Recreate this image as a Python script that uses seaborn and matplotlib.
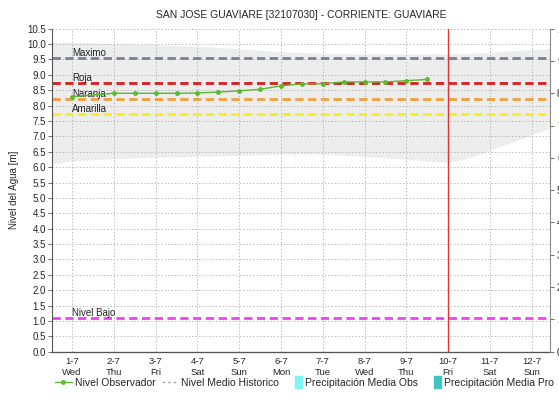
import numpy as np
import pandas as pd
import matplotlib.pyplot as plt
import seaborn as sns
from matplotlib.lines import Line2D
from matplotlib.patches import Patch, Rectangle
from matplotlib.legend_handler import HandlerPatch

sns.set_style("white")
plt.rcParams.update({
    "font.family": ["Liberation Sans", "DejaVu Sans"],
    "font.size": 7,
    "xtick.labelsize": 6.8,
    "ytick.labelsize": 7,
})

# dias del 1-7 (0) al 12-7 (11)
day_labels = ["1-7\nWed", "2-7\nThu", "3-7\nFri", "4-7\nSat", "5-7\nSun", "6-7\nMon",
              "7-7\nTue", "8-7\nWed", "9-7\nThu", "10-7\nFri", "11-7\nSat", "12-7\nSun"]

# nivel observado (cada 12 h)
obs_days = [0, 1, 1.5, 2, 2.5, 3, 3.5, 4, 4.5, 5, 5.5, 6, 6.5, 7, 7.5, 8, 8.5]
obs_level = [8.29, 8.40, 8.40, 8.40, 8.40, 8.41, 8.44, 8.48, 8.53, 8.64, 8.71, 8.71,
             8.77, 8.77, 8.77, 8.81, 8.85]

# rango historico (banda gris)
band_days = [-0.5, 0, 1, 2, 3, 4, 5, 6, 7, 8, 9, 9.5, 10, 10.5, 11, 11.5]
band_upper = [10.07, 10.05, 10.02, 9.98, 9.93, 9.85, 9.75, 9.70, 9.68, 9.68, 9.68,
              9.70, 9.73, 9.78, 9.82, 9.86]
band_lower = [6.10, 6.20, 6.28, 6.32, 6.35, 6.38, 6.42, 6.42, 6.35, 6.25, 6.15,
              6.30, 6.55, 6.80, 7.05, 7.30]

# umbrales
thr_names = ["Maximo", "Roja", "Naranja", "Amarilla", "Nivel Bajo"]
thr_values = [9.55, 8.74, 8.22, 7.73, 1.08]
thr_colors = ["#7a8194", "#d81e1e", "#f0a040", "#f5f01e", "#ee44ee"]

today = 9  # 10-7

fig = plt.figure(figsize=(5.59, 4.03), dpi=100)
ax = fig.add_axes([0.093, 0.1273, 0.891, 0.8015])

ax.fill_between(band_days, band_lower, band_upper, color="#ededed", lw=0, zorder=0)

for name, val, col in zip(thr_names, thr_values, thr_colors):
    ax.axhline(val, color=col, ls=(0, (3, 1.6)), lw=2, zorder=2)
    ax.text(0, val, name, ha="left", va="bottom", fontsize=7, color="#222222", zorder=4)

ax.axvline(today, color="#dd3333", lw=1, zorder=3)

obs = pd.DataFrame({"day": obs_days, "level": obs_level})
sns.lineplot(data=obs, x="day", y="level", ax=ax, color="#5cb82e", lw=1,
             marker="o", markersize=3.5, markeredgewidth=0, zorder=5)

ax.set_xlim(-0.48, 11.44)
ax.set_ylim(0, 10.5)
ax.set_xticks(range(len(day_labels)))
ax.set_xticklabels(day_labels, linespacing=1.2)
ax.set_yticks(np.arange(0, 10.51, 0.5))
ax.set_yticklabels([f"{v:.1f}" for v in np.arange(0, 10.51, 0.5)])
ax.set_xlabel("")
ax.set_ylabel("Nivel del Agua [m]", fontsize=7, labelpad=6)
ax.grid(True, ls=(0, (1.5, 2)), color="#bbbbbb", lw=0.7)
ax.tick_params(axis="y", length=3, width=0.6, color="#555555", pad=1.5)
ax.tick_params(axis="x", length=0, pad=4)
for s in ["top", "right"]:
    ax.spines[s].set_visible(False)
ax.spines["left"].set_color("#555555")
ax.spines["left"].set_linewidth(0.8)
ax.spines["bottom"].set_color("#555555")
ax.spines["bottom"].set_linestyle((0, (1, 0.6)))
ax.spines["bottom"].set_linewidth(0.9)

ax2 = ax.twinx()
ax2.set_ylim(0, 10)
ax2.set_yticks(range(0, 11))
ax2.set_yticklabels([str(v) for v in range(0, 11)])
ax2.tick_params(axis="y", length=3, width=0.6, color="#555555", pad=2)
for s in ["top", "left", "bottom"]:
    ax2.spines[s].set_visible(False)
ax2.spines["right"].set_color("#888888")
ax2.spines["right"].set_linewidth(0.8)

ax.set_title("SAN JOSE GUAVIARE [32107030] - CORRIENTE: GUAVIARE", fontsize=7.5, pad=8)


def narrow_patch(legend, orig_handle, xdescent, ydescent, width, height, fontsize):
    return Rectangle((width - 5 - xdescent, -ydescent - 1.5), 5, height + 3)


handles = [
    Line2D([], [], color="#5cb82e", lw=1, marker="o", markersize=3.5, markeredgewidth=0),
    Line2D([], [], color="#aaaaaa", lw=1, ls=(0, (2, 2))),
    Patch(color="#80f5f5"),
    Patch(color="#40c4c0"),
]
labels = ["Nivel Observador", "Nivel Medio Historico",
          "Precipitación Media Obs", "Precipitación Media Pro"]
fig.legend(handles, labels, loc="center", bbox_to_anchor=(0.545, 0.05), ncol=4,
           frameon=False, fontsize=7.5, handlelength=1.6, handletextpad=0.3,
           columnspacing=0.6,
           handler_map={Patch: HandlerPatch(patch_func=narrow_patch)})

fig.savefig("out.png", dpi=100)
